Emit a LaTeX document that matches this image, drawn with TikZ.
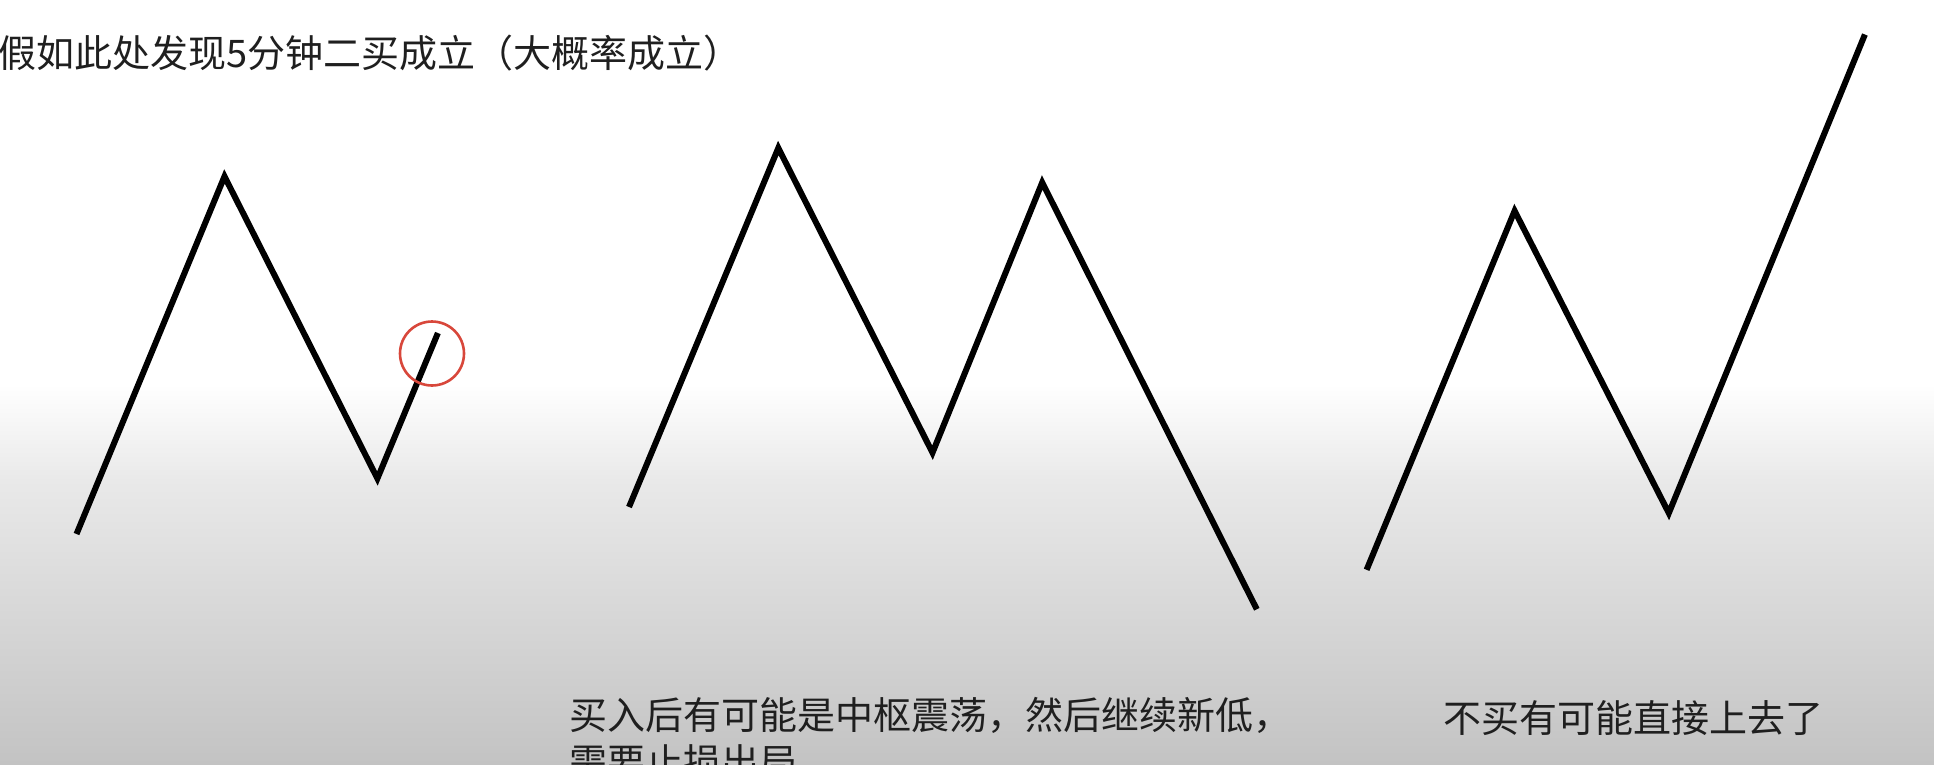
\documentclass[tikz,border=0pt]{standalone}
\usepackage{fontspec}
\newfontfamily\cjk{Noto Sans CJK SC}
\definecolor{bgmid}{HTML}{E9E9E9}
\definecolor{bgbot}{HTML}{C3C3C3}
\definecolor{circred}{HTML}{D8473B}
\tikzset{
  wave/.style={line width=6pt, line join=miter, line cap=butt, black},
  label/.style={inner sep=0pt, anchor=west, text=black!88, font=\cjk\fontsize{38}{47}\selectfont, align=left},
  mark circle/.style={draw=circred, line width=2.6pt, circle, minimum size=64pt, inner sep=0pt}
}
\begin{document}
\begin{tikzpicture}[x=1pt,y=-1pt]
\useasboundingbox (0,0) rectangle (1934,764);
% background
\fill[white] (0,0) rectangle (1934,385);
\shade[top color=white, bottom color=bgmid] (0,384) rectangle (1934,481);
\shade[top color=bgmid, bottom color=bgbot] (0,480) rectangle (1934,764);
% chart 1
\coordinate (a1) at (76.5,534);
\coordinate (a2) at (224.5,176.4);
\coordinate (a3) at (377.4,478.5);
\coordinate (a4) at (437.9,333);
\draw[wave] (a1) -- (a2) -- (a3) -- (a4);
\node[mark circle] (c1) at (432,353.5) {};
% chart 2
\coordinate (b1) at (629,507);
\coordinate (b2) at (778.3,148);
\coordinate (b3) at (932.5,452.7);
\coordinate (b4) at (1042.2,182.5);
\coordinate (b5) at (1256.8,609.3);
\draw[wave] (b1) -- (b2) -- (b3) -- (b4) -- (b5);
% chart 3
\coordinate (d1) at (1366.6,569.8);
\coordinate (d2) at (1514.6,210.9);
\coordinate (d3) at (1668.8,513.1);
\coordinate (d4) at (1864.9,34.5);
\draw[wave] (d1) -- (d2) -- (d3) -- (d4);
% texts
\node[label] (t1) at (-2,53) {假如此处发现5分钟二买成立（大概率成立）};
\node[label, anchor=north west] (t2) at (569,697) {买入后有可能是中枢震荡，然后继续新低，\\需要止损出局};
\node[label] (t3) at (1443,718) {不买有可能直接上去了};
\end{tikzpicture}
\end{document}
